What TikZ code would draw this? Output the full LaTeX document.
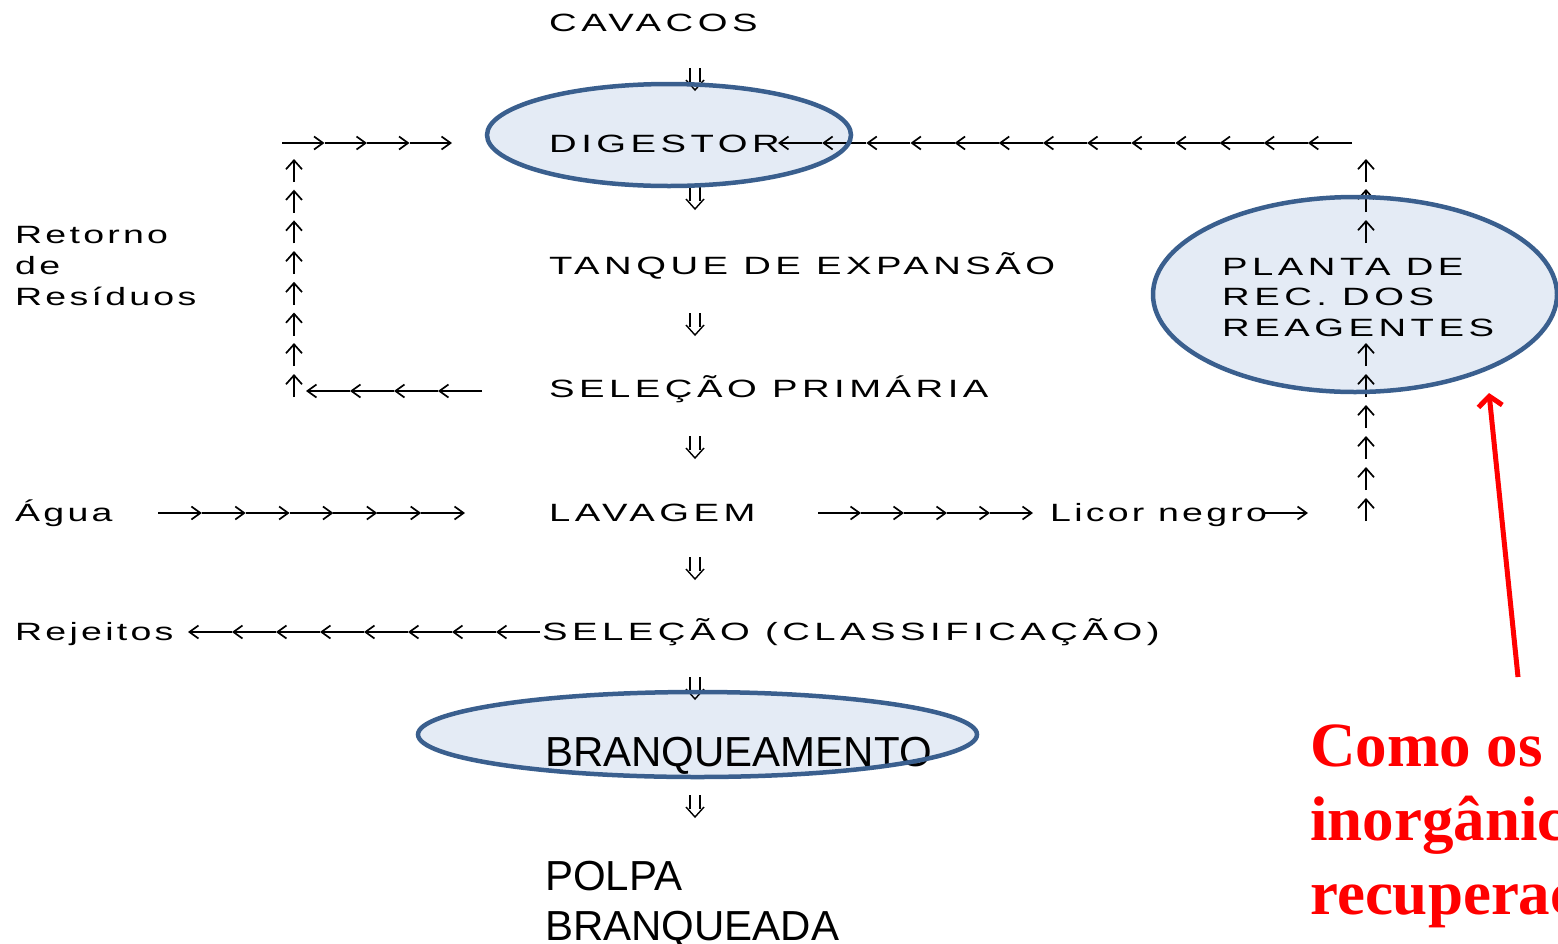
\documentclass[tikz,border=0pt]{standalone}
\usepackage{fontspec}
\setmainfont{Liberation Sans}
\newfontfamily\widefont[FakeStretch=1.53,LetterSpace=18]{Liberation Sans}
\newfontfamily\lowfont[FakeStretch=1.5,LetterSpace=13]{Liberation Sans}
\newfontfamily\plainfont{Liberation Sans}
\newfontfamily\redfont{Liberation Serif}
\usetikzlibrary{arrows.meta,shapes.geometric}
\definecolor{ellline}{HTML}{3A5F8E}
\definecolor{ellfill}{HTML}{E4EBF5}
\tikzset{
  wide/.style={font=\widefont\fontsize{25}{30}\selectfont, anchor=base west, inner sep=0pt},
  lowwide/.style={font=\lowfont\fontsize{25}{30}\selectfont, anchor=base west, inner sep=0pt},
  big/.style={font=\plainfont\fontsize{42}{50}\selectfont, anchor=base west, inner sep=0pt},
  redtxt/.style={font=\redfont\bfseries\fontsize{63}{75}\selectfont, text=red, anchor=base west, inner sep=0pt},
  ellbg/.style={fill=ellfill},
  ellfg/.style={ellipse, draw=ellline, line width=4.5pt, inner sep=0pt},
  hglyph/.style={line width=1.7pt, -{Straight Barb[length=9pt,width=13pt]}},
  vglyph/.style={line width=1.7pt, -{Straight Barb[length=9pt,width=16pt]}},
  dbl/.style={line width=1.4pt},
  redarrow/.style={red, line width=5pt, -{Straight Barb[length=10pt,width=24pt]}},
}
% y, x0, x1, n
\newcommand\hchain[4]{%
  \foreach \k in {1,...,#4}{%
    \draw[hglyph] ({#2+(\k-1)*(#3-#2)/#4},#1) -- ({#2+\k*(#3-#2)/#4},#1);
  }}
% x, top
\newcommand\upglyph[2]{\draw[vglyph] (#1,#2+23) -- (#1,#2);}
% x centre, top
\newcommand\dnglyph[2]{%
  \draw[dbl] (#1-5,#2) -- (#1-5,#2+14) (#1+5,#2) -- (#1+5,#2+14);
  \draw[dbl] (#1-9,#2+12) -- (#1,#2+22) -- (#1+9,#2+12);}
\begin{document}
\begin{tikzpicture}[x=1pt,y=-1pt]
\useasboundingbox (0,0) rectangle (1558,943);
\clip (0,0) rectangle (1558,943);
% ellipse fills
\fill[ellbg] (669,135) ellipse [x radius=182, y radius=51];
\fill[ellbg] (1355,294.5) ellipse [x radius=202, y radius=97.5];
\fill[ellbg] (697.5,734.5) ellipse [x radius=279.5, y radius=42.5];
% main column texts
\node[wide] (cav) at (549,31) {CAVACOS};
\node[wide] (digt) at (549,152) {DIGESTOR};
\node[wide] (tan) at (549,274) {TANQUE DE EXPANSÃO};
\node[wide] (selp) at (549,397) {SELEÇÃO PRIMÁRIA};
\node[wide] (lav) at (549,521) {LAVAGEM};
\node[wide] (sel) at (542,640) {SELEÇÃO (CLASSIFICAÇÃO)};
\node[big] (brat) at (545,766) {BRANQUEAMENTO};
\node[big] (pol1) at (545,890) {POLPA};
\node[big] (pol2) at (545,940) {BRANQUEADA};
% side texts
\node[lowwide] (ret1) at (15,243) {Retorno};
\node[lowwide] (ret2) at (15,274) {de};
\node[lowwide] (ret3) at (15,305) {Resíduos};
\node[lowwide] (agua) at (15,521) {Água};
\node[lowwide] (rej) at (15,640) {Rejeitos};
\node[lowwide] (licor) at (1050,521) {Licor negro};
\node[wide] (pl1) at (1222,275) {PLANTA DE};
\node[wide] (pl2) at (1222,305) {REC. DOS};
\node[wide] (pl3) at (1222,336) {REAGENTES};
% red question
\node[redtxt] (q1) at (1310,766) {Como os};
\node[redtxt] (q2) at (1310,840) {inorgânic};
\node[redtxt] (q3) at (1310,914) {recuperac};
% down double arrows
\foreach \t in {68,187,313,436,557,677,795} {\dnglyph{695}{\t}}
% horizontal chains
\hchain{143}{282}{452}{4}
\hchain{143}{1352}{778}{13}
\hchain{391}{482}{306}{4}
\hchain{513}{158}{465}{7}
\hchain{513}{818}{1033}{5}
\hchain{513}{1265}{1308}{1}
\hchain{632}{540}{188}{8}
% vertical chains
\foreach \t in {159,189.7,220.4,251,281.8,312.5,343,374} {\upglyph{294}{\t}}
\foreach \t in {159,189,220,343,374,405,436,467,498} {\upglyph{1366}{\t}}
% ellipse outlines on top
\node[ellfg, minimum width=364pt, minimum height=102pt] (dig) at (669,135) {};
\node[ellfg, minimum width=404pt, minimum height=195pt] (plant) at (1355,294.5) {};
\node[ellfg, minimum width=559pt, minimum height=85pt] (bra) at (697.5,734.5) {};
% red arrow
\coordinate (rstart) at (1518,677);
\coordinate (rend) at (1489,393);
\draw[redarrow] (rstart) -- (rend);
\end{tikzpicture}
\end{document}
